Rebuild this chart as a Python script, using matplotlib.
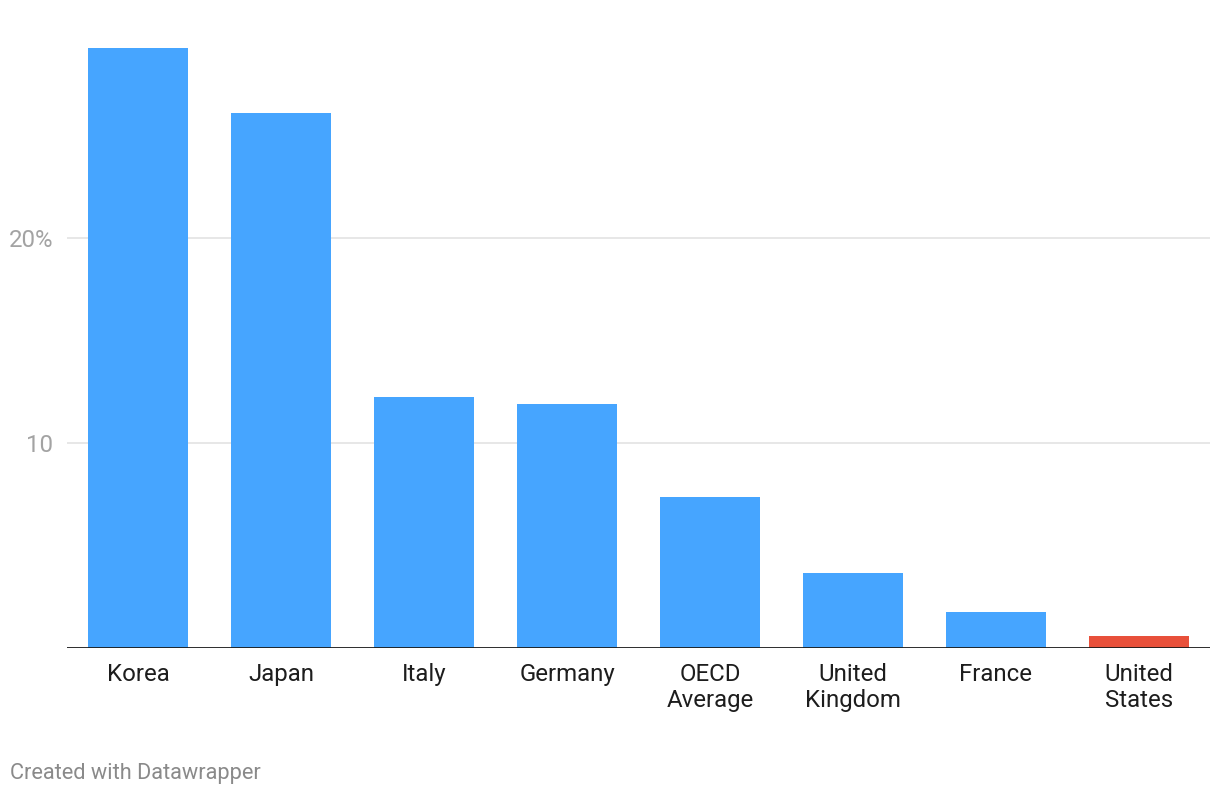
import matplotlib
matplotlib.use("Agg")
import matplotlib.pyplot as plt

categories = ["Korea", "Japan", "Italy", "Germany", "OECD\nAverage", "United\nKingdom", "France", "United\nStates"]
values = [29.27, 26.1, 12.24, 11.9, 7.37, 3.66, 1.76, 0.59]
colors = ["#46a5ff"] * 7 + ["#e8503a"]
ytick_vals = [10, 20]
ytick_labels = ["10", "20%"]

plt.rcParams['font.family'] = ['Roboto', 'DejaVu Sans']

W, H = 1220, 796
fig = plt.figure(figsize=(W / 100, H / 100), dpi=100)
left, right = 67 / W, 1210 / W
bottom = 1 - 648 / H
top = 1 - 33 / H
ax = fig.add_axes([left, bottom, right - left, top - bottom])

x = list(range(len(categories)))
ax.bar(x, values, width=0.7, color=colors, zorder=2)
ax.set_xlim(-0.5, len(categories) - 0.5)
ax.set_ylim(0, 30)

for v in ytick_vals:
    ax.axhline(v, color="#e3e3e3", lw=1.2, zorder=1)
ax.axhline(0, color="#1a1a1a", lw=2, zorder=3)

ax.set_yticks(ytick_vals)
ax.set_yticklabels(ytick_labels, fontsize=17.3, color="#a3a3a3")
ax.tick_params(axis="y", length=0, pad=10)
ax.set_xticks(x)
ax.set_xticklabels(categories, fontsize=17.3, color="#1d1d1d", linespacing=1.17, va="top")
ax.tick_params(axis="x", length=0, pad=11)

for s in ax.spines.values():
    s.set_visible(False)

fig.text(10 / W, 1 - 774 / H, "Created with Datawrapper", fontsize=15.7, color="#8a8a8a", va="center", ha="left")

fig.savefig("out.png", dpi=100)
